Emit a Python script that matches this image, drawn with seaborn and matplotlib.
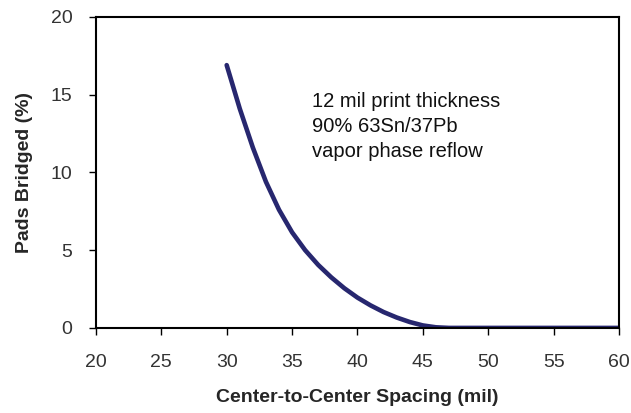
import pandas as pd
import matplotlib.pyplot as plt
import seaborn as sns

# Dados
spacing = [30, 31, 32, 33, 34, 35, 36, 37, 38, 39, 40, 41, 42, 43, 44, 45, 46, 47,
           48, 50, 52, 54, 56, 58, 60]
bridged = [16.9, 14.1, 11.6, 9.4, 7.6, 6.15, 5.0, 4.05, 3.25, 2.55, 1.95, 1.45, 1.02, 0.67,
           0.38, 0.16, 0.04, 0.0, 0.0, 0.0, 0.0, 0.0, 0.0, 0.0, 0.0]
x_ticks = [20, 25, 30, 35, 40, 45, 50, 55, 60]
y_ticks = [0, 5, 10, 15, 20]
note = "12 mil print thickness\n90% 63Sn/37Pb\nvapor phase reflow"

sns.set_theme(style='ticks')
plt.rcParams['font.family'] = ['Liberation Sans', 'DejaVu Sans']

df = pd.DataFrame({'spacing': spacing, 'bridged': bridged})

fig = plt.figure(figsize=(6.31, 4.13), dpi=100)
ax = fig.add_axes([0.152, 0.206, 0.829, 0.753])

sns.lineplot(data=df, x='spacing', y='bridged', ax=ax, color='#27276f', linewidth=3.3)

ax.set_xlim(20, 60)
ax.set_ylim(0, 20)
ax.set_xticks(x_ticks)
ax.set_yticks(y_ticks)
ax.tick_params(axis='both', direction='out', length=5, width=1, colors='black',
               labelsize=14, labelcolor='#333333')
ax.tick_params(axis='x', pad=14)
ax.tick_params(axis='y', pad=12)
for side in ['left', 'right', 'top', 'bottom']:
    ax.spines[side].set_visible(True)
    ax.spines[side].set_color('black')
    ax.spines[side].set_linewidth(1.5)

ax.set_xlabel('Center-to-Center Spacing (mil)', fontsize=14, fontweight='bold')
ax.set_ylabel('Pads Bridged (%)', fontsize=14, fontweight='bold')
ax.xaxis.set_label_coords(0.5, -0.195)
ax.yaxis.set_label_coords(-0.12, 0.5)

ax.text(36.5, 15.2, note, fontsize=14.5, va='top', ha='left', linespacing=1.4, color='#111111')

plt.savefig('out.png', dpi=100)
plt.close()
